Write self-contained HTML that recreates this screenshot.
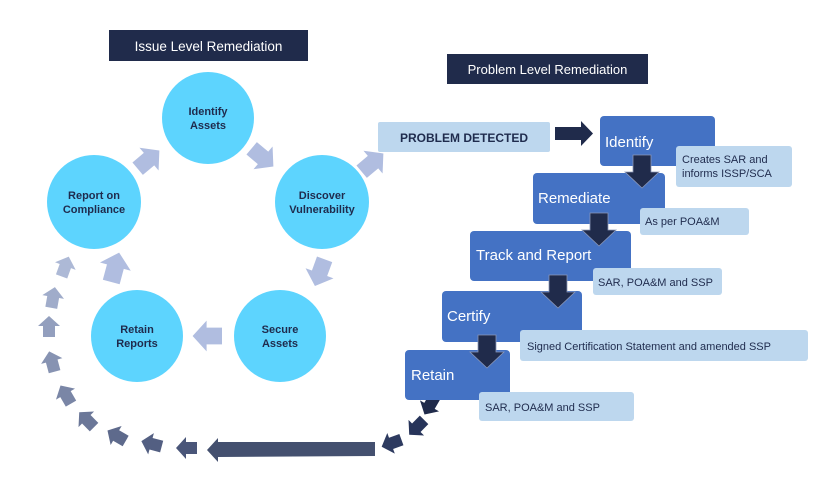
<!DOCTYPE html>
<html><head><meta charset="utf-8"><style>
html,body{margin:0;padding:0;background:#fff;}
svg{display:block;}
text{font-family:"Liberation Sans","DejaVu Sans",sans-serif;}
</style></head><body>
<svg width="837" height="490" viewBox="0 0 837 490" xmlns="http://www.w3.org/2000/svg">
<defs>
<path id="ar" d="M-10,-6 L1,-6 L1,-11 L11,0 L1,11 L1,6 L-10,6 Z"/>
<path id="da" d="M-9,-17 L9,-17 L9,0 L17,0 L0,16 L-17,0 L-9,0 Z"/>
</defs>
<rect x="109" y="30" width="199" height="31" fill="#202b4b"/>
<text x="208.5" y="51" fill="#fff" font-size="13.5" text-anchor="middle">Issue Level Remediation</text>
<rect x="447" y="54" width="201" height="30" fill="#202b4b"/>
<text x="547.5" y="74" fill="#fff" font-size="13" text-anchor="middle">Problem Level Remediation</text>

<g fill="#5dd4fe">
<circle cx="208" cy="118" r="46"/>
<circle cx="94" cy="202" r="47"/>
<circle cx="322" cy="202" r="47"/>
<circle cx="137" cy="336" r="46"/>
<circle cx="280" cy="336" r="46"/>
</g>
<g fill="#1f2b4d" font-size="11" font-weight="bold" text-anchor="middle">
<text x="208" y="115">Identify</text><text x="208" y="129">Assets</text>
<text x="94" y="199">Report on</text><text x="94" y="213">Compliance</text>
<text x="322" y="199">Discover</text><text x="322" y="213">Vulnerability</text>
<text x="137" y="333">Retain</text><text x="137" y="347">Reports</text>
<text x="280" y="333">Secure</text><text x="280" y="347">Assets</text>
</g>

<g fill="#b0bde0">
<use href="#ar" transform="translate(148,160) rotate(-40) scale(1.35)"/>
<use href="#ar" transform="translate(262,157) rotate(40) scale(1.35)"/>
<use href="#ar" transform="translate(372,163) rotate(-40) scale(1.35)"/>
<use href="#ar" transform="translate(320,272) rotate(110) scale(1.35)"/>
<use href="#ar" transform="translate(208,336) rotate(180) scale(1.4)"/>
<use href="#ar" transform="translate(115,268) rotate(-75) scale(1.45)"/>
</g>

<use href="#ar" fill="#202b4b" transform="translate(430,405) rotate(120)"/>
<use href="#ar" fill="#27345a" transform="translate(417,427) rotate(135)"/>
<use href="#ar" fill="#2e3b60" transform="translate(392,443) rotate(160)"/>
<use href="#ar" fill="#4a5679" transform="translate(187,448) rotate(180)"/>
<use href="#ar" fill="#535f82" transform="translate(152,444) rotate(195)"/>
<use href="#ar" fill="#5e6a8c" transform="translate(117,436) rotate(210)"/>
<use href="#ar" fill="#6b7798" transform="translate(87,420) rotate(225)"/>
<use href="#ar" fill="#7a86a6" transform="translate(66,395) rotate(240)"/>
<use href="#ar" fill="#8793b2" transform="translate(52,362) rotate(255)"/>
<use href="#ar" fill="#939fbe" transform="translate(49,327) rotate(270)"/>
<use href="#ar" fill="#a0acca" transform="translate(53,298) rotate(280)"/>
<use href="#ar" fill="#adb9d6" transform="translate(65,267) rotate(290)"/>
<path d="M375,442 L218,442 L218,438 L207,450 L218,462 L218,457 L375,456 Z" fill="#44506f"/>

<rect x="378" y="122" width="172" height="30" rx="2" fill="#bdd7ee"/>
<text x="464" y="142" fill="#1f2b4d" font-size="12" font-weight="bold" text-anchor="middle">PROBLEM DETECTED</text>
<path d="M555,127 L581,127 L581,121 L593,133.5 L581,146 L581,140 L555,140 Z" fill="#202b4b"/>

<g fill="#4472c4">
<rect x="600" y="116" width="115" height="50" rx="4"/>
<rect x="533" y="173" width="132" height="51" rx="4"/>
<rect x="470" y="231" width="161" height="50" rx="4"/>
<rect x="442" y="291" width="140" height="51" rx="4"/>
<rect x="405" y="350" width="105" height="50" rx="4"/>
</g>
<g fill="#fff" font-size="15">
<text x="605" y="147">Identify</text>
<text x="538" y="203">Remediate</text>
<text x="476" y="260">Track and Report</text>
<text x="447" y="321">Certify</text>
<text x="411" y="380">Retain</text>
</g>
<g fill="#bdd7ee">
<rect x="676" y="146" width="116" height="41" rx="3"/>
<rect x="640" y="208" width="109" height="27" rx="3"/>
<rect x="593" y="268" width="129" height="27" rx="3"/>
<rect x="520" y="330" width="288" height="31" rx="3"/>
<rect x="479" y="392" width="155" height="29" rx="3"/>
</g>
<g fill="#1f2b4d" font-size="11">
<text x="682" y="163">Creates SAR and</text>
<text x="682" y="177">informs ISSP/SCA</text>
<text x="645" y="225">As per POA&amp;M</text>
<text x="598" y="286">SAR, POA&amp;M and SSP</text>
<text x="527" y="350">Signed Certification Statement and amended SSP</text>
<text x="485" y="411">SAR, POA&amp;M and SSP</text>
</g>
<g fill="#202b4b" stroke="#8a97b8" stroke-width="0.8">
<use href="#da" transform="translate(642,172)"/>
<use href="#da" transform="translate(599,230)"/>
<use href="#da" transform="translate(558,292)"/>
<use href="#da" transform="translate(487,352)"/>
</g>
</svg>
</body></html>
